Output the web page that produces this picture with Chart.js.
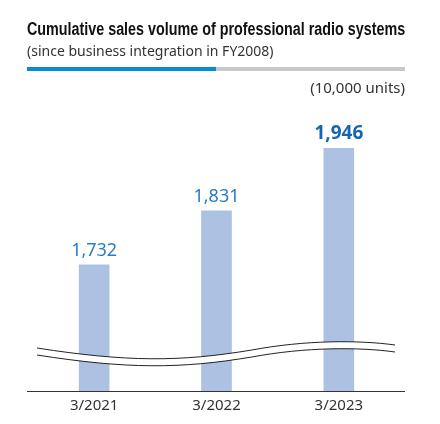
<!DOCTYPE html>
<html>
<head>
<meta charset="utf-8">
<script src="https://cdn.jsdelivr.net/npm/chart.js@4"></script>
<style>
  body { margin: 0; background: #fff; }
  #wrap { position: relative; width: 440px; height: 424px; }
  #chart { position: absolute; left: 0; top: 0; }
  .title { position: absolute; left: 27px; top: 19px; font: bold 18px "Liberation Sans", sans-serif; color: #111; white-space: nowrap; transform-origin: 0 0; }
  .sub { position: absolute; left: 27px; top: 41px; font: 14px "Noto Sans", sans-serif; color: #333; white-space: nowrap; }
  .bar { position: absolute; left: 27px; top: 67px; width: 378px; height: 4px; background: #c8c8c8; }
  .bar div { width: 189px; height: 4px; background: #0a8ad6; }
  .units { position: absolute; right: 35px; top: 77px; font: 15px "Noto Sans", sans-serif; color: #333; white-space: nowrap; }
</style>
</head>
<body>
<div id="wrap">
  <canvas id="chart" width="440" height="424"></canvas>
  <div class="title" id="title">Cumulative sales volume of professional radio systems</div>
  <div class="sub">(since business integration in FY2008)</div>
  <div class="bar"><div></div></div>
  <div class="units">(10,000 units)</div>
</div>
<script>
const categories = ['3/2021', '3/2022', '3/2023'];
const salesVolume = [1732, 1831, 1946];
const valueLabels = ['1,732', '1,831', '1,946'];

// squeeze title to the rule width (condensed look)
const titleEl = document.getElementById('title');
titleEl.style.transform = 'scaleX(' + (378 / titleEl.offsetWidth) + ')';

// labels above bars, last one bold
const valueLabelPlugin = {
  id: 'valueLabels',
  afterDatasetsDraw(chart) {
    const ctx = chart.ctx;
    const meta = chart.getDatasetMeta(0);
    ctx.save();
    ctx.textAlign = 'center';
    ctx.textBaseline = 'alphabetic';
    meta.data.forEach(function(bar, i) {
      const last = i === meta.data.length - 1;
      ctx.font = (last ? 'bold 19px' : '18px') + ' "Noto Sans", sans-serif';
      ctx.fillStyle = last ? '#1565b2' : '#2b7cc2';
      ctx.fillText(valueLabels[i], bar.x, bar.y - 9);
    });
    ctx.restore();
  }
};

// wavy break + baseline
const breakPlugin = {
  id: 'axisBreak',
  afterDatasetsDraw(chart) {
    const ctx = chart.ctx;
    const a = chart.chartArea;
    const x0 = a.left + 4, x1 = a.right - 5;
    const w = x1 - x0;
    const y = a.bottom - 43;
    const gap = 7;
    function wave(dy) {
      ctx.beginPath();
      ctx.moveTo(x0, y + dy);
      ctx.bezierCurveTo(x0 + w * 0.25, y + 14 + dy, x0 + w * 0.4, y + 14 + dy, x0 + w * 0.6, y + 2 + dy);
      ctx.bezierCurveTo(x0 + w * 0.75, y - 8 + dy, x0 + w * 0.9, y - 8 + dy, x1, y - 3 + dy);
    }
    ctx.save();
    ctx.fillStyle = '#fff';
    ctx.beginPath();
    ctx.moveTo(x0, y);
    ctx.bezierCurveTo(x0 + w * 0.25, y + 14, x0 + w * 0.4, y + 14, x0 + w * 0.6, y + 2);
    ctx.bezierCurveTo(x0 + w * 0.75, y - 8, x0 + w * 0.9, y - 8, x1, y - 3);
    ctx.lineTo(x1, y - 3 + gap);
    ctx.bezierCurveTo(x0 + w * 0.9, y - 8 + gap, x0 + w * 0.75, y - 8 + gap, x0 + w * 0.6, y + 2 + gap);
    ctx.bezierCurveTo(x0 + w * 0.4, y + 14 + gap, x0 + w * 0.25, y + 14 + gap, x0, y + gap);
    ctx.closePath();
    ctx.fill();
    ctx.strokeStyle = '#222';
    ctx.lineWidth = 1;
    wave(0); ctx.stroke();
    wave(gap); ctx.stroke();

    ctx.beginPath();
    ctx.moveTo(27, a.bottom + 0.5);
    ctx.lineTo(405, a.bottom + 0.5);
    ctx.strokeStyle = '#333';
    ctx.stroke();
    ctx.restore();
  }
};

new Chart(document.getElementById('chart'), {
  type: 'bar',
  data: {
    labels: categories,
    datasets: [{
      data: salesVolume,
      backgroundColor: '#adc2e2',
      barThickness: 30
    }]
  },
  options: {
    responsive: false,
    animation: false,
    layout: { padding: { left: 33, right: 40, top: 108, bottom: 11 } },
    plugins: { legend: { display: false }, tooltip: { enabled: false } },
    scales: {
      x: {
        grid: { display: false },
        border: { display: false },
        ticks: { color: '#333', font: { size: 15, family: '"Noto Sans", sans-serif' }, padding: -2 }
      },
      y: {
        display: false,
        min: 1500,
        max: 2020
      }
    }
  },
  plugins: [valueLabelPlugin, breakPlugin]
});
</script>
</body>
</html>
